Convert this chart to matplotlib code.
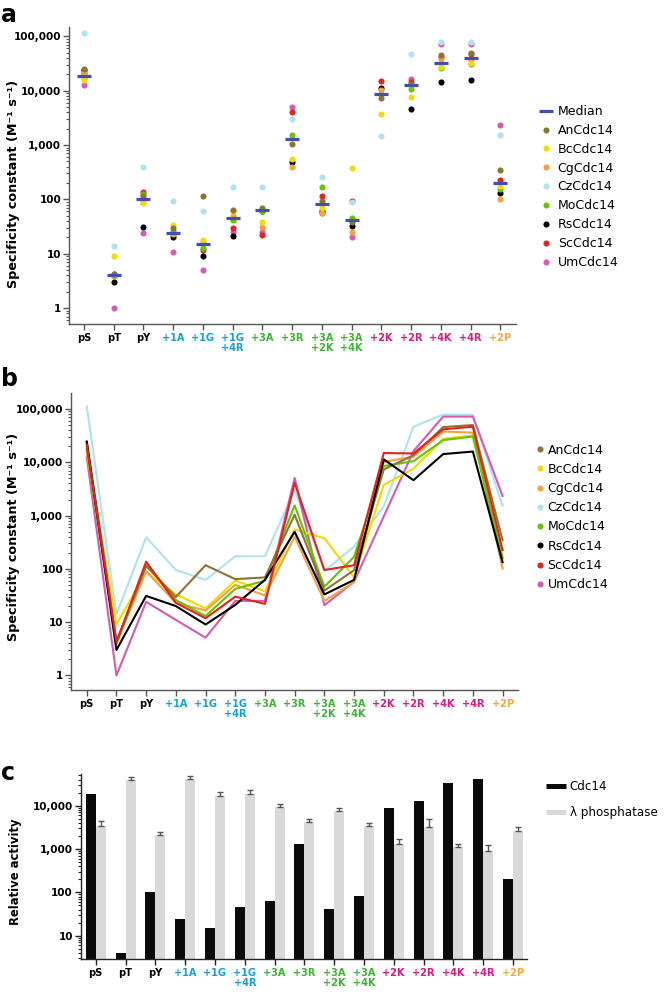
import numpy as np
import matplotlib
matplotlib.use('Agg')
import matplotlib.pyplot as plt
from matplotlib.ticker import LogLocator, FuncFormatter, NullFormatter, FixedLocator
from matplotlib.lines import Line2D

plt.rcParams['font.family'] = ['DejaVu Sans']

# ---------------- data ----------------
categories = ['pS', 'pT', 'pY', '+1A', '+1G', '+1G\n+4R', '+3A', '+3R',
              '+3A\n+2K', '+3A\n+4K', '+2K', '+2R', '+4K', '+4R', '+2P']
cat_groups = ['p', 'p', 'p', 'g1', 'g1', 'g1', 'g3', 'g3', 'g3', 'g3',
              'bas', 'bas', 'bas', 'bas', 'pro']

strains = ['AnCdc14', 'BcCdc14', 'CgCdc14', 'CzCdc14',
           'MoCdc14', 'RsCdc14', 'ScCdc14', 'UmCdc14']

An = [25000, 4.3, 113, 29.5, 117, 64, 69, 1035, 94, 39, 7340, 13500, 45800, 50000, 344]
Bc = [15700, 9.0, 87, 33.5, 18, 60, 38, 550, 69, 375, 3780, 7580, 27700, 31900, 177]
Cg = [21000, 4.0, 90, 23, 16.5, 50, 31.6, 400, 56, 25, 10200, 12700, 37800, 36000, 102]
Cz = [113000, 14, 390, 95, 62, 172, 172, 3020, 262, 91, 1490, 46700, 78600, 78000, 1535]
Mo = [17000, 3.9, 125, 26, 13, 42, 60, 1550, 168, 46, 8500, 10500, 26000, 30500, 158]
Rs = [24000, 3.0, 31, 20, 9, 21, 62, 495, 62, 33, 11350, 4610, 14260, 15900, 133]
Sc = [21500, 4.2, 136, 23, 11.8, 30, 22, 4110, 117, 95, 14900, 14650, 41500, 46500, 225]
Um = [12700, 1.0, 24, 11, 5.1, 25, 25, 5080, 57, 20.7, np.nan, 16200, 72000, 72000, 2340]
median = [18600, 4.0, 100, 23.9, 15.2, 45, 63, 1290, 81, 42, 8800, 12600, 32300, 39900, 201]

# panel b shows the +3A+2K / +3A+4K columns in the opposite order to panel a
b_order = [0, 1, 2, 3, 4, 5, 6, 7, 9, 8, 10, 11, 12, 13, 14]

cdc14 = [18900, 3.9, 100, 23.8, 14.8, 45, 63, 1280, 41, 81, 8840, 12600, 32800, 40500, 200]
lam = [3450, 39100, 2070, 41300, 16700, 18300, 9150, 4200, 7540, 3450, 1300, 3270, 1100, 900, 2600]
lam_err = [1060, 6000, 360, 7700, 3600, 4300, 1950, 640, 1460, 450, 370, 1570, 180, 320, 560]

# ---------------- styles ----------------
group_colors = {'p': 'black', 'g1': '#14A0DC', 'g3': '#3CB632', 'bas': '#E3197E', 'pro': '#F8A83A'}
strain_colors = ['#8B7533', '#F2DC00', '#F7A13E', '#AEE3F2', '#66C400', '#000000', '#E3231C', '#D85AB5']
median_color = '#3F4FB5'
axis_color = '#555555'
series = [An, Bc, Cg, Cz, Mo, Rs, Sc, Um]

x = np.arange(len(categories))

fig = plt.figure(figsize=(6.66, 9.93), dpi=100)


def fmt_comma(v, pos):
    return '{:,}'.format(int(round(v)))


def style_log_axis(ax, color, major_ticks):
    ax.set_yscale('log')
    for s in ['top', 'right']:
        ax.spines[s].set_visible(False)
    for s in ['left', 'bottom']:
        ax.spines[s].set_color(color)
        ax.spines[s].set_linewidth(1.0)
    ax.yaxis.set_major_locator(FixedLocator(major_ticks))
    ax.yaxis.set_minor_locator(LogLocator(base=10, subs=np.arange(2, 10), numticks=20))
    ax.yaxis.set_major_formatter(FuncFormatter(fmt_comma))
    ax.yaxis.set_minor_formatter(NullFormatter())
    ax.tick_params(axis='y', which='major', length=4.1, width=1.0, color=color, pad=1.5)
    ax.tick_params(axis='y', which='minor', length=2.2, width=0.8, color=color)
    ax.tick_params(axis='x', which='major', length=4.3, width=1.0, color=color, pad=2)
    for lab in ax.get_yticklabels():
        lab.set_fontweight('bold')
        lab.set_fontsize(7.5)
    ax.set_xticks(x)
    ax.set_xticklabels(categories, fontsize=7.1, fontweight='bold', linespacing=1.0)
    for lab, g in zip(ax.get_xticklabels(), cat_groups):
        lab.set_color(group_colors[g])


ylabel_ab = 'Specificity constant (M\u207b\u00b9 s\u207b\u00b9)'

# ---------------- panel a ----------------
axa = fig.add_axes([0.1036, 0.6737, 0.6712, 0.2994])
draw_order = [7, 6, 5, 4, 3, 2, 1, 0]
for k in draw_order:
    axa.plot(x, series[k], ls='none', marker='o', ms=4.4, mew=0,
             color=strain_colors[k], zorder=3 + draw_order.index(k) * 0.01)
axa.plot(x, median, ls='none', marker='_', ms=10.6, mew=2.3, color=median_color, zorder=5)
axa.set_xlim(-0.504, 14.53)
axa.set_ylim(0.51, 150000)
style_log_axis(axa, axis_color, [1, 10, 100, 1000, 10000, 100000])
axa.set_ylabel(ylabel_ab, fontsize=9.2, fontweight='bold')
axa.yaxis.set_label_coords(-0.11, 0.471)

handles_a = [Line2D([0], [0], color=median_color, lw=2.3, solid_capstyle='butt')] + \
            [Line2D([0], [0], ls='none', marker='o', ms=4.4, mew=0, color=c) for c in strain_colors]
axa.legend(handles_a, ['Median'] + strains, loc='upper left',
           bbox_to_anchor=(539 / 666, 1 - 105 / 993), bbox_transform=fig.transFigure,
           frameon=False, fontsize=9.0, handlelength=1.12, handletextpad=0.38,
           labelspacing=0.47, borderpad=0, borderaxespad=0)

# ---------------- panel b ----------------
axb = fig.add_axes([0.1066, 0.3051, 0.6712, 0.2988])
for k in [3, 7, 1, 2, 4, 0, 5, 6]:
    vals = np.array(series[k], dtype=float)[b_order]
    m = ~np.isnan(vals)
    axb.plot(x[m], vals[m], color=strain_colors[k], lw=1.5, zorder=3)
axb.set_xlim(-0.53, 14.52)
axb.set_ylim(0.53, 197000)
style_log_axis(axb, axis_color, [1, 10, 100, 1000, 10000, 100000])
axb.set_ylabel(ylabel_ab, fontsize=9.2, fontweight='bold')
axb.yaxis.set_label_coords(-0.114, 0.516)

handles_b = [Line2D([0], [0], ls='none', marker='o', ms=4.4, mew=0, color=c) for c in strain_colors]
axb.legend(handles_b, strains, loc='upper left',
           bbox_to_anchor=(536 / 666, 1 - 443.5 / 993), bbox_transform=fig.transFigure,
           frameon=False, fontsize=9.0, handlelength=0.62, handletextpad=0.3,
           labelspacing=0.5, borderpad=0, borderaxespad=0)

# ---------------- panel c ----------------
axc = fig.add_axes([0.1212, 0.0342, 0.6697, 0.1863])
axc.set_yscale('log')
w = 0.336
axc.bar(x - w / 2, cdc14, w, color='#0A0A0A', zorder=2)
axc.bar(x + w / 2, lam, w, color='#D9D9D9', zorder=2)
axc.errorbar(x + w / 2, lam, yerr=[np.zeros(len(lam)), lam_err], fmt='none',
             ecolor='#555555', elinewidth=1.0, capsize=2.2, capthick=1.0, zorder=3)
axc.set_xlim(-0.503, 14.46)
axc.set_ylim(2.9, 54000)
style_log_axis(axc, '#222222', [10, 100, 1000, 10000])
axc.set_ylabel('Relative activity', fontsize=8.4, fontweight='bold')
axc.yaxis.set_label_coords(-0.132, 0.473)

handles_c = [Line2D([0], [0], color='#0A0A0A', lw=3.6, solid_capstyle='butt'),
             Line2D([0], [0], color='#D9D9D9', lw=3.6, solid_capstyle='butt')]
axc.legend(handles_c, ['Cdc14', '\u03bb phosphatase'], loc='upper left',
           bbox_to_anchor=(545.5 / 666, 1 - 780.5 / 993), bbox_transform=fig.transFigure,
           frameon=False, fontsize=8.6, handlelength=1.68, handletextpad=0.36,
           labelspacing=1.07, borderpad=0, borderaxespad=0)

# ---------------- panel letters ----------------
for letter, ybase in [('a', 21.5), ('b', 386.5), ('c', 780)]:
    fig.text(1 / 666, 1 - ybase / 993, letter, fontsize=17, fontweight='bold',
             ha='left', va='baseline')

fig.savefig('out.png', dpi=100)
